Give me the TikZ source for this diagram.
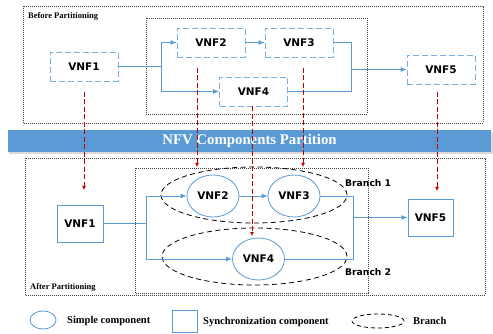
\documentclass[tikz,border=0pt]{standalone}
\usepackage{fontspec}
\setmainfont{Liberation Serif}
\newfontfamily\vnffont{DejaVu Sans}
\usetikzlibrary{shapes.geometric,arrows.meta}
\definecolor{nfvblue}{HTML}{5B9BD5}
\definecolor{nfvred}{HTML}{C00000}
\tikzset{
  dotbox/.style={draw=black!75, line width=0.7pt, dash pattern=on 0.7pt off 1.3pt},
  dashvnf/.style={draw=nfvblue!80, line width=0.9pt, dash pattern=on 6pt off 3pt, fill=white,
     minimum width=68pt, minimum height=29pt, inner sep=0pt, font=\vnffont\bfseries\fontsize{10.5}{12}\selectfont},
  syncvnf/.style={draw=nfvblue, line width=0.8pt, fill=white, inner sep=0pt,
     font=\vnffont\bfseries\fontsize{10.5}{12}\selectfont},
  simplevnf/.style={ellipse, draw=nfvblue, line width=0.8pt, fill=white, inner sep=0pt,
     minimum width=52pt, minimum height=42pt, font=\vnffont\bfseries\fontsize{10.5}{12}\selectfont},
  branchell/.style={ellipse, draw=black, line width=0.8pt, dash pattern=on 5pt off 3.5pt, inner sep=0pt},
  conn/.style={draw=nfvblue, line width=0.9pt},
  connarr/.style={conn, -{Latex[length=6pt,width=5pt]}},
  redarr/.style={draw=nfvred, line width=0.8pt, dash pattern=on 5pt off 2.5pt, -{Latex[length=4pt,width=4pt]}},
  lbl/.style={anchor=west, inner sep=0pt, font=\bfseries\fontsize{8.5}{10}\selectfont},
  brlbl/.style={anchor=west, inner sep=0pt, font=\vnffont\bfseries\fontsize{9.2}{11}\selectfont},
  leglbl/.style={anchor=west, inner sep=0pt, font=\bfseries\fontsize{10.5}{12}\selectfont},
}
\begin{document}
\begin{tikzpicture}[x=1pt,y=-1pt]
\useasboundingbox (0,0) rectangle (493,334);
% ---------- top section ----------
\draw[dotbox] (23,6) rectangle (483,123);
\draw[dotbox] (146,18) rectangle (367,114);
\node[lbl] (before) at (28,16.5) {Before Partitioning};
\node[dashvnf] (v1) at (84,66.5) {VNF1};
\node[dashvnf] (v2) at (211,42.5) {VNF2};
\node[dashvnf] (v3) at (299,42.5) {VNF3};
\node[dashvnf] (v4) at (253.5,91.5) {VNF4};
\node[dashvnf] (v5) at (441,69.5) {VNF5};
\coordinate (s1) at (161,66.5);
\coordinate (j1) at (351,69.5);
\draw[conn] (v1.east) -- (s1);
\draw[connarr] (s1) |- (v2.west);
\draw[connarr] (s1) |- (v4.west);
\draw[connarr] (v2.east) -- (v3.west);
\draw[conn] (v3.east) -| (j1);
\draw[conn] (v4.east) -| (j1);
\draw[connarr] (j1) -- (v5.west);
% ---------- banner ----------
\fill[black!15] (9,132) rectangle (493,154);
\node[fill=nfvblue, minimum width=483pt, minimum height=22pt, inner sep=0pt, text=white,
  font=\bfseries\fontsize{14.8}{16}\selectfont] (banner) at (249.5,141) {NFV Components Partition};
% ---------- bottom section ----------
\draw[dotbox] (25,158) rectangle (485,295);
\draw[dotbox] (135,168) rectangle (368,293);
\node[lbl] (after) at (30,287) {After Partitioning};
\node[branchell, minimum width=186pt, minimum height=56pt] (br1) at (254,195) {};
\node[branchell, minimum width=185pt, minimum height=57pt] (br2) at (254.5,256.5) {};
\node[brlbl] (br1lbl) at (345,183) {Branch 1};
\node[brlbl] (br2lbl) at (345,272) {Branch 2};
\node[syncvnf, minimum width=46pt, minimum height=37pt] (b1) at (80,223.5) {VNF1};
\node[simplevnf] (b2) at (213,196) {VNF2};
\node[simplevnf] (b3) at (294,196) {VNF3};
\node[simplevnf] (b4) at (258.5,259) {VNF4};
\node[syncvnf, minimum width=45pt, minimum height=37pt] (b5) at (430.5,217.5) {VNF5};
\coordinate (s2) at (146,223.5);
\coordinate (j2) at (353,217.5);
\draw[conn] (b1.east) -- (s2);
\draw[connarr] (s2) |- (b2.west);
\draw[connarr] (s2) |- (b4.west);
\draw[connarr] (b2.east) -- (b3.west);
\draw[conn] (b3.east) -| (j2);
\draw[conn] (b4.east) -| (j2);
\draw[connarr] (j2) -- (b5.west);
% ---------- red dashed mapping arrows ----------
\coordinate (r1a) at (84,92);   \coordinate (r1b) at (84,190);
\coordinate (r2a) at (197,68);  \coordinate (r2b) at (197,167);
\coordinate (r3a) at (303,68);  \coordinate (r3b) at (303,167);
\coordinate (r4b) at (252,236);
\coordinate (r5a) at (437,92);  \coordinate (r5b) at (437,191);
\draw[redarr] (r1a) -- (r1b);
\draw[redarr] (r2a) -- (r2b);
\draw[redarr] (r3a) -- (r3b);
\draw[redarr] (v4.south -| r4b) -- (r4b);
\draw[redarr] (r5a) -- (r5b);
% ---------- legend ----------
\node[ellipse, draw=nfvblue, line width=0.8pt, minimum width=26pt, minimum height=18pt, inner sep=0pt] (legsimple) at (43,320) {};
\node[leglbl] (legsimplelbl) at (67,321) {Simple component};
\node[draw=nfvblue, line width=0.8pt, minimum width=25pt, minimum height=22pt, inner sep=0pt] (legsync) at (184.5,321) {};
\node[leglbl] (legsynclbl) at (203,322) {Synchronization component};
\node[branchell, dash pattern=on 4pt off 3pt, minimum width=52pt, minimum height=14pt] (legbranch) at (378,321) {};
\node[leglbl] (legbranchlbl) at (413,321) {Branch};
\end{tikzpicture}
\end{document}
